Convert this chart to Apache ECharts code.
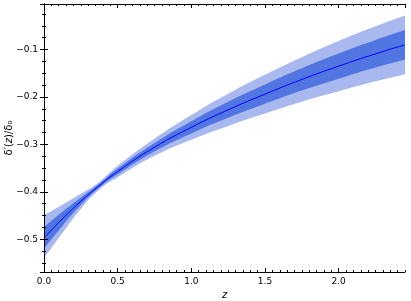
<!DOCTYPE html>
<html>
<head>
<meta charset="utf-8">
<script src="https://cdn.jsdelivr.net/npm/echarts@6/dist/echarts.min.js"></script>
<style>html,body{margin:0;padding:0;background:#fff}#c{width:411px;height:301px}</style>
</head>
<body>
<div id="c"></div>
<script>
// Data
var zVals     = [0, 0.125, 0.25, 0.375, 0.5, 0.75, 1.0, 1.25, 1.5, 1.75, 2.0, 2.25, 2.45];
var centerVal = [-0.497, -0.457, -0.420, -0.387, -0.357, -0.306, -0.264, -0.227, -0.194, -0.163, -0.135, -0.109, -0.090];
var outerLo   = [-0.540, -0.487, -0.436, -0.395, -0.369, -0.324, -0.290, -0.261, -0.235, -0.210, -0.188, -0.167, -0.152];
var outerHi   = [-0.449, -0.427, -0.404, -0.379, -0.345, -0.288, -0.238, -0.193, -0.153, -0.116, -0.082, -0.051, -0.028];
var innerLo   = [-0.520, -0.472, -0.428, -0.391, -0.363, -0.315, -0.277, -0.244, -0.2145, -0.1865, -0.1615, -0.138, -0.121];
var innerHi   = [-0.474, -0.442, -0.412, -0.383, -0.351, -0.297, -0.251, -0.210, -0.1735, -0.1395, -0.1085, -0.080, -0.059];
var xTicks = [0, 0.5, 1.0, 1.5, 2.0];

function pairs(ys){ return zVals.map(function(z,i){ return [z, ys[i]]; }); }

var chart = echarts.init(document.getElementById('c'), null, {renderer:'canvas'});
var font = 'DejaVu Sans';
var lineBlack = {show:true, lineStyle:{color:'#000', width:1}};
function fmtY(v){
  var r = Math.round(v*10)/10;
  if (Math.abs(v - r) > 1e-6) return '';
  return r.toFixed(1).replace('-', '\u2212');
}
function fmtX(v){
  for (var i=0;i<xTicks.length;i++) if (Math.abs(v-xTicks[i])<1e-6) return xTicks[i].toFixed(1);
  return '';
}
var tickMajor = {show:true, inside:true, length:4, lineStyle:{color:'#000'}};
var tickMinor = {show:true, inside:true, length:2, lineStyle:{color:'#000'}};
function band(ys, color, z){
  return {type:'line', data:pairs(ys), smooth:true, showSymbol:false, z:z,
          lineStyle:{opacity:0}, areaStyle:{color:color, opacity:1, origin:'start'}, silent:true};
}
var option = {
  animation:false,
  grid:{left:44, right:6, top:4, bottom:29, containLabel:false, outerBoundsMode:'none'},
  xAxis:[
    {type:'value', position:'bottom', min:0, max:2.45, interval:0.5, z:10,
     axisLine:lineBlack, axisTick:tickMajor,
     axisLabel:{formatter:fmtX, color:'#000', fontFamily:font, fontSize:9, margin:5, showMaxLabel:false},
     splitLine:{show:false},
     name:'z', nameLocation:'middle', nameGap:17,
     nameTextStyle:{fontFamily:font, fontSize:10, fontStyle:'italic', color:'#000'}},
    {type:'value', position:'bottom', min:0, max:2.45, interval:0.05, z:10,
     axisLine:{show:false}, axisTick:tickMinor, axisLabel:{show:false}, splitLine:{show:false}},
    {type:'value', position:'top', min:0, max:2.45, interval:0.5, z:10,
     axisLine:lineBlack, axisTick:tickMajor, axisLabel:{show:false}, splitLine:{show:false}},
    {type:'value', position:'top', min:0, max:2.45, interval:0.05, z:10,
     axisLine:{show:false}, axisTick:tickMinor, axisLabel:{show:false}, splitLine:{show:false}}
  ],
  yAxis:[
    {type:'value', position:'left', min:-0.569, max:-0.004, z:10,
     axisLine:lineBlack, axisTick:tickMajor,
     minorTick:{show:true, splitNumber:4, length:2, lineStyle:{color:'#000'}},
     axisLabel:{formatter:fmtY, color:'#000', fontFamily:font, fontSize:9, margin:6, showMinLabel:false, showMaxLabel:false},
     splitLine:{show:false}, minorSplitLine:{show:false},
     name:'{a|\u03b4\u2032(}{i|z}{a|)/\u03b4\u2080}', nameLocation:'middle', nameGap:30, nameRotate:90,
     nameMoveOverlap:false,
     nameTextStyle:{rich:{a:{fontFamily:font, fontSize:10, color:'#000'}, i:{fontFamily:font, fontSize:10, fontStyle:'italic', color:'#000'}}}},
    {type:'value', position:'right', min:-0.569, max:-0.004, z:10,
     axisLine:lineBlack, axisTick:tickMajor,
     minorTick:{show:true, splitNumber:4, length:2, lineStyle:{color:'#000'}},
     axisLabel:{show:false}, splitLine:{show:false}, minorSplitLine:{show:false}}
  ],
  series:[
    band(outerHi, '#a9b9ef', 2),
    band(innerHi, '#5276e1', 3),
    band(innerLo, '#a9b9ef', 4),
    band(outerLo, '#ffffff', 5),
    {type:'line', data:pairs(centerVal), smooth:true, showSymbol:false, z:6, lineStyle:{color:'#0000ff', width:1}, silent:true}
  ]
};
chart.setOption(option);
</script>
</body>
</html>
